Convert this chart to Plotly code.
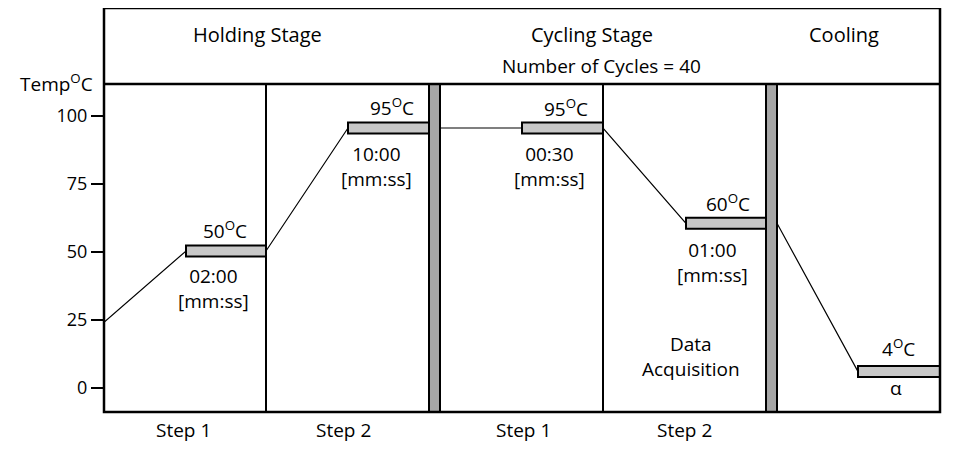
import plotly.graph_objects as go

# ---- data (schematic time axis, temperature in °C) ----
start_temp = 24
plateau_start = [82, 244, 418, 582, 754]
plateau_end = [162, 325, 499, 662, 836]
plateau_temp = [50.3, 95.6, 95.6, 60.5, 5.9]
plateau_labels = ["50<sup>O</sup>C", "95<sup>O</sup>C", "95<sup>O</sup>C", "60<sup>O</sup>C", "4<sup>O</sup>C"]
hold_times = ["02:00", "10:00", "00:30", "01:00", "α"]
time_unit = "[mm:ss]"
step_dividers = [162, 499]
stage_breaks = [(325, 336), (662, 673)]
stage_names = ["Holding Stage", "Cycling Stage", "Cooling"]
stage_centers = [153, 488, 740]
step_names = ["Step 1", "Step 2", "Step 1", "Step 2"]
step_centers = [79, 239, 419, 580]
y_ticks = [0, 25, 50, 75, 100]

FONT = "Open Sans"
fig = go.Figure()

# temperature profile line
px_ = [0, plateau_start[0], plateau_end[0], plateau_start[1], plateau_end[1],
       stage_breaks[0][1], plateau_start[2], plateau_end[2], plateau_start[3], plateau_end[3],
       stage_breaks[1][1], plateau_start[4], plateau_end[4]]
py_ = [start_temp, plateau_temp[0], plateau_temp[0], plateau_temp[1], plateau_temp[1],
       plateau_temp[1], plateau_temp[2], plateau_temp[2], plateau_temp[3], plateau_temp[3],
       plateau_temp[3], plateau_temp[4], plateau_temp[4]]
fig.add_trace(go.Scatter(x=px_, y=py_, mode="lines", line=dict(color="black", width=1.2),
                         hoverinfo="skip", showlegend=False))

shapes = []
# plateau bars
for s, e, t in zip(plateau_start, plateau_end, plateau_temp):
    shapes.append(dict(type="rect", xref="x", yref="y", x0=s, x1=e, y0=t - 2, y1=t + 2,
                       fillcolor="#c8c8c8", line=dict(color="black", width=2), layer="above"))
# step dividers
for d in step_dividers:
    shapes.append(dict(type="line", xref="x", yref="paper", x0=d, x1=d, y0=0, y1=1,
                       line=dict(color="black", width=2), layer="above"))
# stage break bars
for a, b in stage_breaks:
    shapes.append(dict(type="rect", xref="x", yref="paper", x0=a, x1=b, y0=0, y1=1,
                       fillcolor="#a6a6a6", line=dict(color="black", width=2), layer="above"))
# frame
TOP = (412 - 8) / 328
shapes.append(dict(type="rect", xref="paper", yref="paper", x0=0, x1=1, y0=0, y1=TOP,
                   line=dict(color="black", width=2.5), layer="above"))
shapes.append(dict(type="line", xref="paper", yref="paper", x0=0, x1=1, y0=1, y1=1,
                   line=dict(color="black", width=2.5), layer="above"))

ann = []
def txt(x, y, s, xref="x", yref="y", xanchor="center", size=19):
    ann.append(dict(x=x, y=y, xref=xref, yref=yref, text=s, showarrow=False,
                    xanchor=xanchor, yanchor="middle", font=dict(family=FONT, size=size, color="black")))

# plateau labels
label_pos = [(121, 58.2), (288, 103.2), (462, 103.0), (624, 68.1), (794, 14.4)]
time_pos = [(109, 36.4), (272, 81.3), (445, 81.3), (608, 46.2), (792, -0.3)]
for (x, y), s in zip(label_pos, plateau_labels):
    txt(x, y, s)
for i, ((x, y), s) in enumerate(zip(time_pos, hold_times)):
    txt(x, y, s if s == "α" else s + "<br>" + time_unit)
txt(587, 11.4, "Data<br>Acquisition")

for x, s in zip(stage_centers, stage_names):
    txt(x, (412 - 34) / 328, s, yref="paper", size=20)
txt(497, (412 - 66) / 328, "Number of Cycles = 40", yref="paper")
for x, s in zip(step_centers, step_names):
    txt(x, (412 - 430) / 328, s, yref="paper")
txt(-9 / 836, (412 - 83) / 328, "Temp<sup>O</sup>C", xref="paper", yref="paper", xanchor="right")

# page has an 8px body margin: figure is drawn at (8, 8) inside the 953x451 window
fig.update_layout(
    width=937, height=435, autosize=False,
    margin=dict(l=96, r=5, t=76, b=31),
    paper_bgcolor="white", plot_bgcolor="white",
    shapes=shapes, annotations=ann,
    xaxis=dict(range=[0, 836], visible=False, fixedrange=True),
    yaxis=dict(range=[-9, 111.8], tickvals=y_ticks, ticks="outside", ticklen=12, tickwidth=2,
               tickcolor="black", showgrid=False, zeroline=False, showline=False,
               tickfont=dict(family=FONT, size=18, color="black"), fixedrange=True),
    showlegend=False,
)
fig.write_html("out.html")
